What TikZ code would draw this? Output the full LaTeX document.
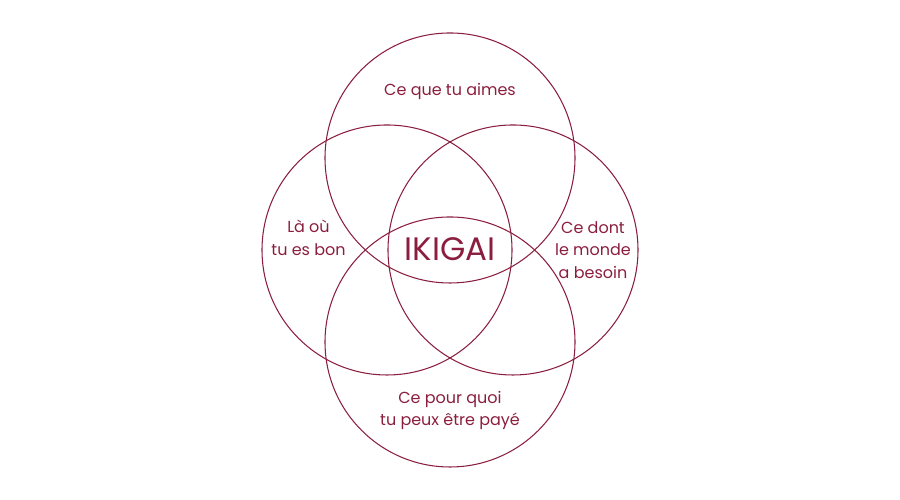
\documentclass[tikz,border=0pt]{standalone}
\usepackage{fontspec}
\setmainfont{Poppins}
\usepackage{xcolor}
\usepackage{tikz}
\usetikzlibrary{positioning}
\definecolor{wine}{HTML}{8B1E3F}
\tikzset{every node/.append style={align=center, inner sep=2pt}}

\begin{document}
\begin{tikzpicture}[font=\fontsize{9.1}{12.9}\selectfont, text=wine,
    ring/.style={circle, draw=wine, line width=0.6pt, minimum size=5cm, inner sep=0pt},
    lbl/.style={text=wine},
    core/.style={text=wine, font=\fontsize{18.5}{20}\selectfont}]
\useasboundingbox (0,0) rectangle (18,10);
% the four circles
\node[ring] (love) at (9,6.84) {};
\node[ring] (good) at (7.74,5) {};
\node[ring] (need) at (10.26,5) {};
\node[ring] (paid) at (9,3.16) {};
% labels
\node[lbl] (tlove) at (9,8.17) {Ce que tu aimes};
\node[lbl] (tgood) at (6.17,5.24) {Là où\\tu es bon};
\node[lbl] (tneed) at (11.86,5) {Ce dont\\le monde\\a besoin};
\node[lbl] (tpaid) at (9,1.79) {Ce pour quoi\\tu peux être payé};
\node[core] (ikigai) at (9,5.02) {IKIGAI};
\end{tikzpicture}
\end{document}
